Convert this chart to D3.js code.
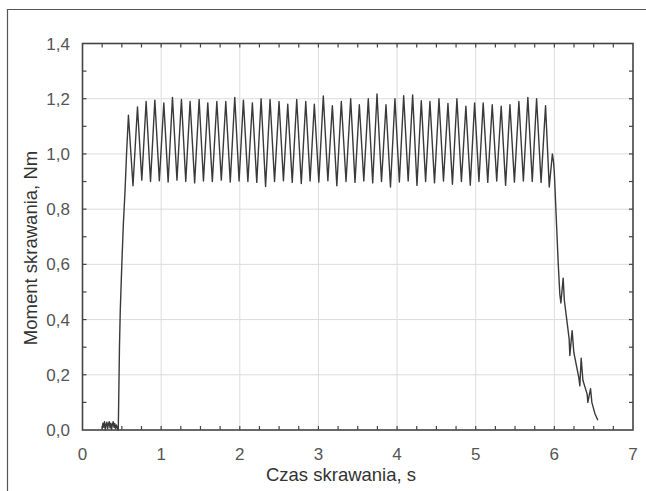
<!DOCTYPE html>
<html>
<head>
    <meta charset="utf-8">
    <title>Moment skrawania</title>
    <style>
        body { margin: 0; background: #fff; }
        text { font-family: "Liberation Sans", Arial, sans-serif; }
        .tick-label { font-size: 17px; fill: #555; }
        .title { font-size: 18.5px; fill: #333; }
        .grid line { stroke: #dcdcdc; stroke-width: 1; }
        .tick { stroke: #444; stroke-width: 1.2; }
    </style>
</head>
<body>
    <svg width="646" height="491"></svg>
    <script src="https://d3js.org/d3.v7.min.js"></script>
    <script>
    // axis ticks
    var xTicks = [0, 1, 2, 3, 4, 5, 6, 7];
    var yTicks = [0, 0.2, 0.4, 0.6, 0.8, 1.0, 1.2, 1.4];

    // idle noise before cutting starts
    var idleT = [0.25, 0.26, 0.27, 0.28, 0.29, 0.30, 0.31, 0.32, 0.33, 0.34, 0.35, 0.36, 0.37, 0.38, 0.39, 0.40, 0.41, 0.42, 0.43, 0.44, 0.45];
    var idleV = [0.005, 0.025, 0.01, 0.03, 0.0, 0.02, 0.028, 0.005, 0.022, 0.03, 0.008, 0.025, 0.002, 0.02, 0.03, 0.01, 0.024, 0.004, 0.018, 0.01, 0.0];

    // ramp up into the first peak
    var rampT = [0.455, 0.47, 0.48, 0.50, 0.52, 0.54, 0.56];
    var rampV = [0.0, 0.30, 0.43, 0.60, 0.75, 0.86, 1.0];

    // oscillation peaks
    var peakT = [0.584, 0.699, 0.809, 0.920, 1.034, 1.144, 1.258, 1.368, 1.483, 1.593,
                 1.708, 1.822, 1.936, 2.046, 2.160, 2.271, 2.385, 2.499, 2.610, 2.724,
                 2.839, 2.948, 3.062, 3.177, 3.291, 3.410, 3.520, 3.634, 3.745, 3.859,
                 3.973, 4.084, 4.198, 4.308, 4.418, 4.533, 4.647, 4.761, 4.875, 4.986,
                 5.095, 5.210, 5.324, 5.435, 5.549, 5.663, 5.774, 5.888];
    var peakV = [1.14, 1.17, 1.19, 1.195, 1.185, 1.205, 1.197, 1.19, 1.197, 1.185,
                 1.19, 1.19, 1.205, 1.195, 1.185, 1.20, 1.197, 1.19, 1.18, 1.197,
                 1.19, 1.18, 1.21, 1.175, 1.19, 1.20, 1.178, 1.20, 1.217, 1.178,
                 1.20, 1.211, 1.214, 1.193, 1.19, 1.20, 1.183, 1.20, 1.173, 1.185,
                 1.185, 1.178, 1.173, 1.178, 1.19, 1.205, 1.20, 1.175];

    // oscillation troughs
    var troughT = [0.642, 0.754, 0.865, 0.977, 1.089, 1.201, 1.313, 1.426, 1.538, 1.651,
                   1.765, 1.879, 1.991, 2.103, 2.216, 2.328, 2.442, 2.555, 2.667, 2.782,
                   2.894, 3.005, 3.120, 3.234, 3.351, 3.465, 3.577, 3.690, 3.802, 3.916,
                   4.029, 4.141, 4.253, 4.363, 4.476, 4.590, 4.704, 4.818, 4.931, 5.041,
                   5.153, 5.267, 5.380, 5.492, 5.606, 5.719, 5.831, 5.935];
    var troughV = [0.885, 0.905, 0.900, 0.903, 0.898, 0.905, 0.900, 0.895, 0.902, 0.900,
                   0.905, 0.898, 0.902, 0.900, 0.897, 0.882, 0.900, 0.903, 0.897, 0.893,
                   0.902, 0.898, 0.903, 0.885, 0.900, 0.897, 0.902, 0.895, 0.900, 0.880,
                   0.898, 0.902, 0.886, 0.900, 0.895, 0.902, 0.890, 0.900, 0.887, 0.900,
                   0.897, 0.902, 0.886, 0.898, 0.902, 0.900, 0.897, 0.880];

    // run-out after the tool leaves the material
    var tailT = [5.975, 5.99, 6.00, 6.048, 6.070, 6.083, 6.112, 6.127, 6.188, 6.197,
                 6.226, 6.248, 6.311, 6.324, 6.341, 6.363, 6.417, 6.426, 6.46, 6.477,
                 6.515, 6.553];
    var tailV = [1.0, 0.97, 0.93, 0.61, 0.49, 0.46, 0.55, 0.47, 0.33, 0.27,
                 0.36, 0.28, 0.19, 0.16, 0.26, 0.18, 0.13, 0.10, 0.15, 0.10,
                 0.06, 0.035];

    function pairs(t, v) { return t.map(function(d, i) { return [d, v[i]]; }); }

    var points = [].concat(pairs(idleT, idleV), pairs(rampT, rampV),
        pairs(peakT, peakV), pairs(troughT, troughV), pairs(tailT, tailV))
        .sort(function(a, b) { return a[0] - b[0]; });

    var svg = d3.select("svg");
    var pLeft = 82.5, pRight = 633, pTop = 43.5, pBottom = 430;

    var x = d3.scaleLinear().domain([0, 7]).range([pLeft, pRight]);
    var y = d3.scaleLinear().domain([0, 1.4]).range([pBottom, pTop]);

    // outer frame (open to the right and bottom)
    svg.append("path")
        .attr("d", "M7.5,500 V9.5 H660")
        .attr("fill", "none")
        .attr("stroke", "#555")
        .attr("stroke-width", 1.2);

    // grid
    var grid = svg.append("g").attr("class", "grid");
    grid.selectAll(".gx").data(xTicks.slice(1, -1)).enter().append("line")
        .attr("x1", x).attr("x2", x).attr("y1", pTop).attr("y2", pBottom);
    grid.selectAll(".gy").data(yTicks.slice(1, -1)).enter().append("line")
        .attr("y1", y).attr("y2", y).attr("x1", pLeft).attr("x2", pRight);

    // inward ticks on all four sides
    var xMinor = d3.range(1, 28).map(function(i) { return i * 0.25; });
    var yMinor = d3.range(1, 14).map(function(i) { return i / 10; });
    var tk = svg.append("g");
    xMinor.forEach(function(d) {
        tk.append("line").attr("class", "tick")
            .attr("x1", x(d)).attr("x2", x(d)).attr("y1", pBottom).attr("y2", pBottom - 4);
        tk.append("line").attr("class", "tick")
            .attr("x1", x(d)).attr("x2", x(d)).attr("y1", pTop).attr("y2", pTop + 4);
    });
    yMinor.forEach(function(d) {
        tk.append("line").attr("class", "tick")
            .attr("y1", y(d)).attr("y2", y(d)).attr("x1", pLeft).attr("x2", pLeft + 4);
        tk.append("line").attr("class", "tick")
            .attr("y1", y(d)).attr("y2", y(d)).attr("x1", pRight).attr("x2", pRight - 4);
    });

    // signal
    var line = d3.line()
        .x(function(d) { return x(d[0]); })
        .y(function(d) { return y(d[1]); });
    svg.append("path")
        .datum(points)
        .attr("d", line)
        .attr("fill", "none")
        .attr("stroke", "#3a3a3a")
        .attr("stroke-width", 1.4)
        .attr("stroke-linejoin", "round");

    // plot box
    svg.append("rect")
        .attr("x", pLeft).attr("y", pTop)
        .attr("width", pRight - pLeft).attr("height", pBottom - pTop)
        .attr("fill", "none")
        .attr("stroke", "#444")
        .attr("stroke-width", 1.6);

    // tick labels
    svg.selectAll(".xl").data(xTicks).enter().append("text")
        .attr("class", "tick-label")
        .attr("x", x).attr("y", 460)
        .attr("text-anchor", "middle")
        .text(function(d) { return d; });
    svg.selectAll(".yl").data(yTicks).enter().append("text")
        .attr("class", "tick-label")
        .attr("x", 70).attr("y", function(d) { return y(d) + 6; })
        .attr("text-anchor", "end")
        .text(function(d) { return d3.format(".1f")(d).replace(".", ","); });

    // axis titles
    svg.append("text").attr("class", "title")
        .attr("x", 341).attr("y", 481)
        .attr("text-anchor", "middle")
        .text("Czas skrawania, s");
    svg.append("text").attr("class", "title")
        .attr("transform", "translate(37,248) rotate(-90)")
        .attr("text-anchor", "middle")
        .text("Moment skrawania, Nm");
    </script>
</body>
</html>
